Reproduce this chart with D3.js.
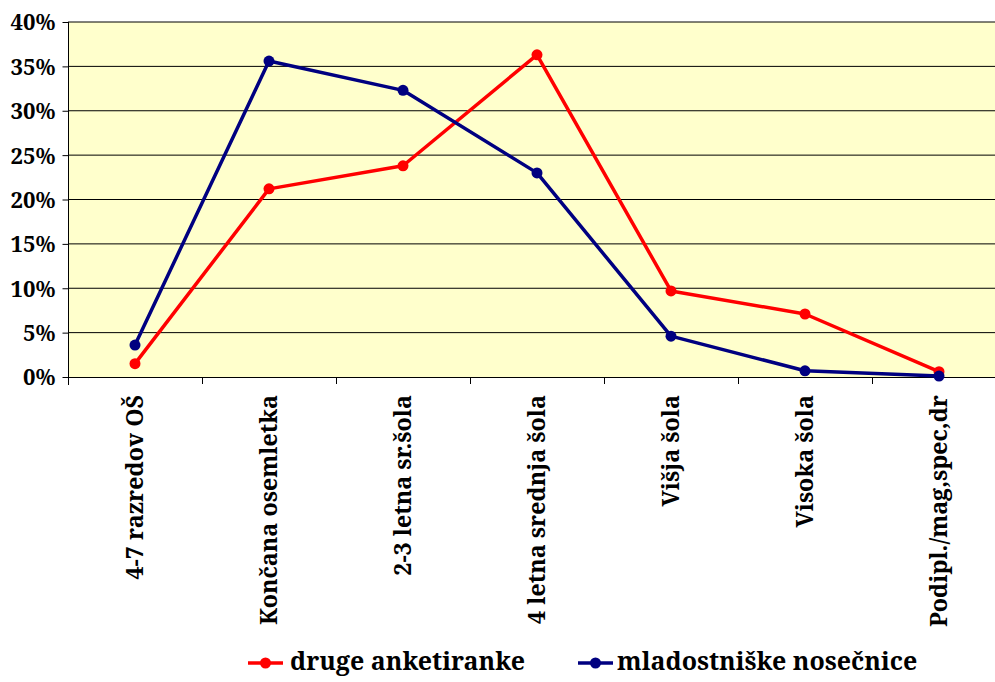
<!DOCTYPE html>
<html>
<head>
<meta charset="utf-8">
<script src="https://cdn.jsdelivr.net/npm/d3@7"></script>
<style>
  html, body { margin: 0; padding: 0; background: #fff; }
  svg { display: block; }
  text { font-family: "Noto Serif", "Liberation Serif", serif; font-weight: bold; fill: #000; }
</style>
</head>
<body>
<svg id="chart" width="995" height="682"></svg>
<script>
// Education level categories
const categories = ["4-7 razredov OŠ", "Končana osemletka", "2-3 letna sr.šola", "4 letna srednja šola", "Višja šola", "Visoka šola", "Podipl./mag,spec,dr"];
// Shares (percent) per series
const drugeAnketiranke = [1.5, 21.2, 23.8, 36.3, 9.7, 7.1, 0.6];
const mladostniskeNosecnice = [3.6, 35.6, 32.3, 23.0, 4.6, 0.7, 0.1];
const seriesNames = ["druge anketiranke", "mladostniške nosečnice"];
const seriesColors = ["#ff0000", "#000080"];
const yTicks = [0, 5, 10, 15, 20, 25, 30, 35, 40];

const svg = d3.select("#chart");
const plotLeft = 68, plotRight = 1006, plotTop = 22, plotBottom = 377;
const FONT = '"Noto Serif", "Liberation Serif", serif';

// Font size giving a text the wanted width
function fitSize(str, width, base) {
  const t = svg.append("text").style("font-family", FONT).style("font-weight", "bold")
    .style("font-size", base + "px").text(str);
  const w = t.node().getComputedTextLength();
  t.remove();
  return base * width / w;
}

const x = d3.scaleBand().domain(categories).range([plotLeft, plotRight]);
const y = d3.scaleLinear().domain([0, 40]).range([plotBottom, plotTop]);

// Plot background
svg.append("rect").attr("x", plotLeft).attr("y", plotTop)
  .attr("width", plotRight - plotLeft).attr("height", plotBottom - plotTop)
  .attr("fill", "#ffffcc");

// Horizontal gridlines
svg.append("g").selectAll("line").data(yTicks.filter(d => d > 0)).join("line")
  .attr("x1", plotLeft).attr("x2", plotRight)
  .attr("y1", d => y(d)).attr("y2", d => y(d))
  .attr("stroke", "#000").attr("stroke-width", 1);

// Y axis
const tickSize = fitSize("40%", 45, 20);
const yAxis = d3.axisLeft(y).tickValues(yTicks).tickFormat(d => d + "%").tickSize(6).tickPadding(7);
const gy = svg.append("g").attr("transform", `translate(${plotLeft + 0.5},0)`).call(yAxis);
gy.select(".domain").attr("stroke", "#000").attr("d", `M0,${plotTop}V${plotBottom + 8}`);
gy.selectAll(".tick line").attr("stroke", "#000");
gy.selectAll(".tick text").style("font-size", tickSize + "px").style("font-family", FONT).style("font-weight", "bold")
  .attr("fill", "#000").attr("dy", "0.36em");

// X axis line and category boundary ticks
const gx = svg.append("g");
gx.append("line").attr("x1", plotLeft).attr("x2", plotRight).attr("y1", plotBottom + 0.5).attr("y2", plotBottom + 0.5).attr("stroke", "#000");
const bounds = categories.map(c => x(c)).concat([plotRight]);
gx.selectAll("line.tk").data(bounds).join("line").attr("class", "tk")
  .attr("x1", d => d + 0.5).attr("x2", d => d + 0.5)
  .attr("y1", plotBottom).attr("y2", plotBottom + 7).attr("stroke", "#000");

// Category labels, rotated
const catSize = fitSize(categories[1], 230, 22);
gx.selectAll("text").data(categories).join("text")
  .attr("transform", d => `translate(${x(d) + x.bandwidth() / 2},${395}) rotate(-90)`)
  .attr("text-anchor", "end").attr("dy", "0.36em")
  .style("font-size", catSize + "px")
  .text(d => d);

// Series lines and markers
const line = d3.line().x((d, i) => x(categories[i]) + x.bandwidth() / 2).y(d => y(d));
[drugeAnketiranke, mladostniskeNosecnice].forEach((vals, si) => {
  const g = svg.append("g");
  g.append("path").datum(vals).attr("d", line)
    .attr("fill", "none").attr("stroke", seriesColors[si]).attr("stroke-width", 3.5)
    .attr("stroke-linejoin", "round");
  g.selectAll("circle").data(vals).join("circle")
    .attr("cx", (d, i) => x(categories[i]) + x.bandwidth() / 2)
    .attr("cy", d => y(d)).attr("r", 5.5).attr("fill", seriesColors[si]);
});

// Legend
const legendSize = fitSize(seriesNames[0], 235, 24);
const legendItems = [
  { x0: 248, tx: 290 },
  { x0: 578, tx: 617 }
];
const ly = 663;
legendItems.forEach((it, i) => {
  const g = svg.append("g");
  g.append("line").attr("x1", it.x0).attr("x2", it.x0 + 35).attr("y1", ly).attr("y2", ly)
    .attr("stroke", seriesColors[i]).attr("stroke-width", 3.5);
  g.append("circle").attr("cx", it.x0 + 17.5).attr("cy", ly).attr("r", 5.5).attr("fill", seriesColors[i]);
  g.append("text").attr("x", it.tx).attr("y", ly).attr("dy", "0.3em")
    .style("font-size", legendSize + "px")
    .text(seriesNames[i]);
});
</script>
</body>
</html>
